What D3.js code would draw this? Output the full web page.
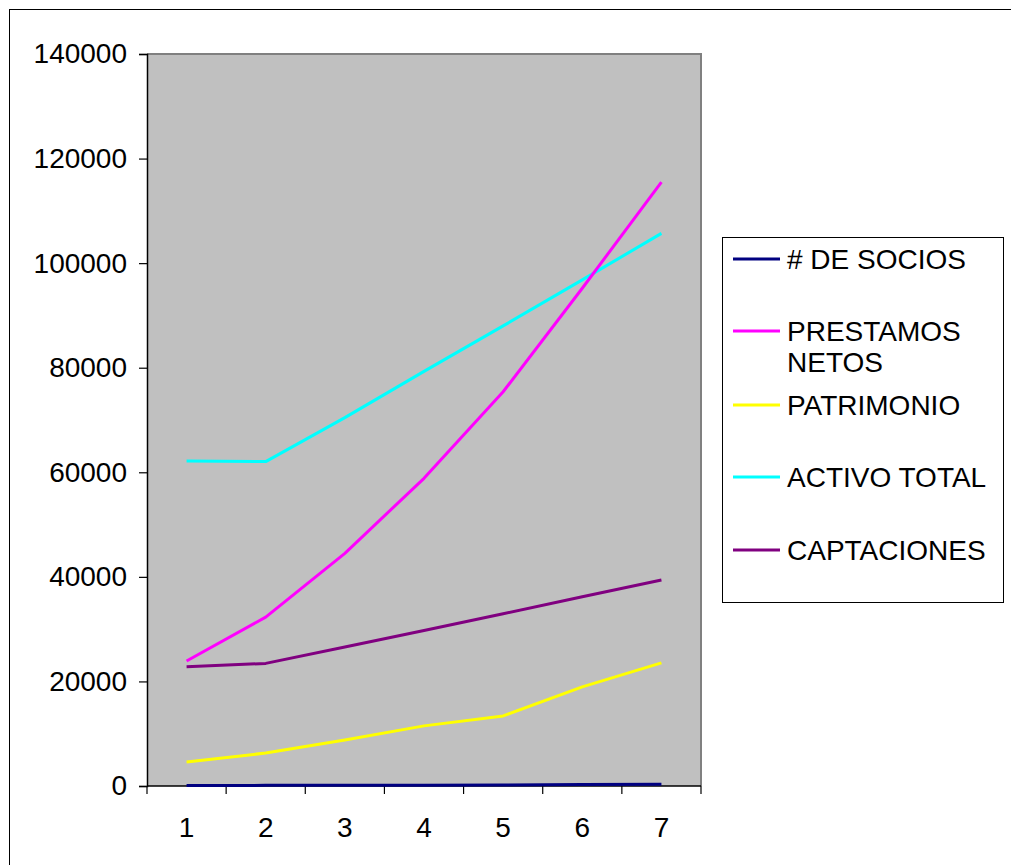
<!DOCTYPE html>
<html>
<head>
<meta charset="utf-8">
<script src="https://cdn.jsdelivr.net/npm/d3@7"></script>
<style>
  html, body { margin: 0; padding: 0; background: #fff; }
  svg { display: block; font-family: "Liberation Sans", Arial, sans-serif; }
</style>
</head>
<body>
<svg id="chart" width="1011" height="865"></svg>
<script>
// Periods on the horizontal axis
const categories = ["1", "2", "3", "4", "5", "6", "7"];

// Series values per period
const socios      = [110, 120, 140, 160, 190, 290, 320];
const prestamos   = [23900, 32300, 44500, 58850, 75400, 95200, 115500];
const patrimonio  = [4600, 6300, 8800, 11500, 13400, 18950, 23550];
const activo      = [62150, 62050, 70450, 79300, 88000, 96800, 105700];
const captaciones = [22800, 23450, 26600, 29750, 32950, 36200, 39400];

// Legend labels (multi-line where wrapped) and colours
const seriesNames  = [["# DE SOCIOS"], ["PRESTAMOS", "NETOS"], ["PATRIMONIO"], ["ACTIVO TOTAL"], ["CAPTACIONES"]];
const seriesColors = ["#000080", "#FF00FF", "#FFFF00", "#00FFFF", "#800080"];
const seriesValues = [socios, prestamos, patrimonio, activo, captaciones];

// Value axis ticks
const yTicks = [0, 20000, 40000, 60000, 80000, 100000, 120000, 140000];

const FONT_SIZE = "28px";
const svg = d3.select("#chart");

// Outer chart frame
svg.append("rect")
  .attr("x", 9.5).attr("y", 9.5)
  .attr("width", 1010).attr("height", 870)
  .attr("fill", "none").attr("stroke", "#000").attr("stroke-width", 1);

const plot = { left: 147, right: 701, top: 54, bottom: 786 };

const x = d3.scaleBand().domain(categories).range([plot.left, plot.right]).padding(0);
const y = d3.scaleLinear().domain([0, 140000]).range([plot.bottom, plot.top]);
const cx = c => x(c) + x.bandwidth() / 2;

// Plot area
svg.append("rect")
  .attr("x", plot.left).attr("y", plot.top)
  .attr("width", plot.right - plot.left).attr("height", plot.bottom - plot.top)
  .attr("fill", "#C0C0C0");
svg.append("path")
  .attr("d", `M${plot.left},${plot.top}H${plot.right}V${plot.bottom}`)
  .attr("fill", "none").attr("stroke", "#808080").attr("stroke-width", 2);

// Y axis
const yAxis = svg.append("g")
  .attr("transform", `translate(${plot.left},0)`)
  .call(d3.axisLeft(y).tickValues(yTicks).tickSize(8).tickPadding(12).tickFormat(d3.format("d")));
yAxis.select(".domain").attr("stroke", "#000").attr("stroke-width", 1.5);
yAxis.selectAll(".tick line").attr("stroke", "#000").attr("stroke-width", 1.2);
yAxis.selectAll(".tick text")
  .attr("fill", "#000").style("font-size", FONT_SIZE)
  .style("font-family", "'Liberation Sans', Arial, sans-serif");

// X axis: ticks at category boundaries, labels centred in each band
const boundaries = categories.map(c => x(c)).concat([plot.right]);
const xAxis = svg.append("g").attr("class", "x-axis");
xAxis.append("line")
  .attr("x1", plot.left).attr("x2", plot.right)
  .attr("y1", plot.bottom).attr("y2", plot.bottom)
  .attr("stroke", "#000").attr("stroke-width", 1.5);
xAxis.selectAll("line.tick")
  .data(boundaries).enter().append("line")
  .attr("class", "tick")
  .attr("x1", d => d).attr("x2", d => d)
  .attr("y1", plot.bottom).attr("y2", plot.bottom + 8)
  .attr("stroke", "#000").attr("stroke-width", 1.2);
xAxis.selectAll("text")
  .data(categories).enter().append("text")
  .attr("x", d => cx(d)).attr("y", 837)
  .attr("text-anchor", "middle")
  .style("font-size", FONT_SIZE).attr("fill", "#000")
  .text(d => d);

// Series lines
const line = d3.line()
  .x((d, i) => cx(categories[i]))
  .y(d => y(d));

// Draw order so the navy baseline series sits on top of the axis
const order = [3, 1, 4, 2, 0];
order.forEach(k => {
  svg.append("path")
    .datum(seriesValues[k])
    .attr("d", line)
    .attr("fill", "none")
    .attr("stroke", seriesColors[k])
    .attr("stroke-width", 3)
    .attr("stroke-linejoin", "round");
});

// Legend
const legend = svg.append("g");
legend.append("rect")
  .attr("x", 722.5).attr("y", 237.5)
  .attr("width", 281).attr("height", 365)
  .attr("fill", "#fff").attr("stroke", "#000").attr("stroke-width", 1);

const legendY = [259, 331, 405, 477, 550];
seriesNames.forEach((name, i) => {
  legend.append("line")
    .attr("x1", 733).attr("x2", 780)
    .attr("y1", legendY[i]).attr("y2", legendY[i])
    .attr("stroke", seriesColors[i]).attr("stroke-width", 3);
  const t = legend.append("text")
    .attr("x", 787).attr("y", legendY[i] + 10)
    .style("font-size", FONT_SIZE).attr("fill", "#000");
  name.forEach((part, j) => {
    t.append("tspan").attr("x", 787).attr("dy", j === 0 ? 0 : 31).text(part);
  });
});
</script>
</body>
</html>
